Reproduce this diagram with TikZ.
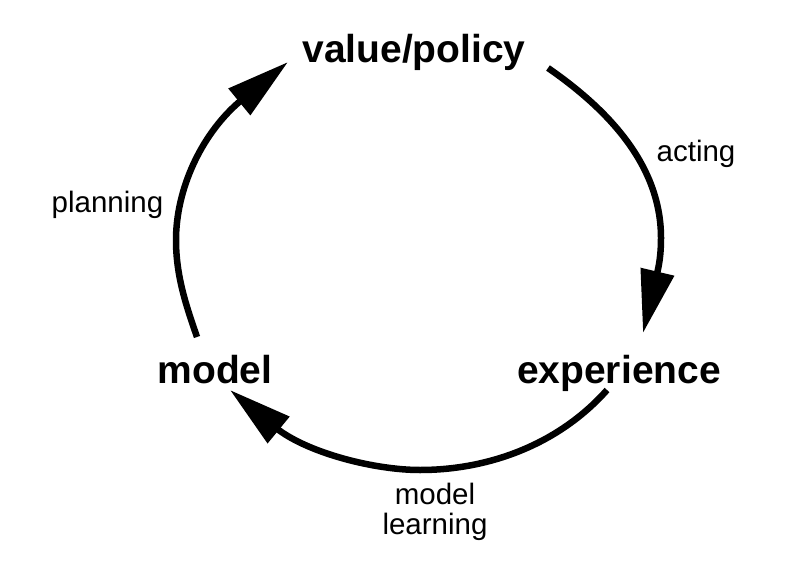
\documentclass[tikz,border=0pt]{standalone}
\usepackage{fontspec}
\setmainfont{Liberation Sans}
\usetikzlibrary{arrows.meta}
\tikzset{
  bigtext/.style={font=\fontsize{39}{44}\selectfont\bfseries, inner sep=0pt, anchor=base},
  smalltext/.style={font=\fontsize{29.5}{30}\selectfont, inner sep=0pt},
  cyc/.style={line width=6.5pt, -{Triangle[length=63pt,width=33pt]}},
}
\begin{document}
\begin{tikzpicture}[x=1pt,y=-1pt]
\useasboundingbox (0,0) rectangle (792,572);
% labels
\node[bigtext] (vp) at (414,63) {value/policy};
\node[bigtext] (model) at (215,383) {model};
\node[bigtext] (exp) at (619,383) {experience};
\node[smalltext, anchor=base] (planning) at (107.5,212) {planning};
\node[smalltext, anchor=base] (acting) at (696,162) {acting};
\node[smalltext, align=center] (ml) at (435,512) {model\\learning};
% planning arc
\coordinate (ps) at (197,337);
\coordinate (pm) at (176,240);
\coordinate (pb) at (238,103);
\coordinate (pe) at (288,62);
\draw[cyc] (ps) .. controls (185.5,304) and (176,275) .. (pm)
  .. controls (176,190) and (200.5,136) .. (pb) -- (pe);
% acting arc
\coordinate (as) at (548,68);
\coordinate (am) at (661,238);
\coordinate (ab) at (657.5,271.5);
\coordinate (ae) at (643,333);
\draw[cyc] (as) .. controls (608,109.5) and (661,165) .. (am)
  .. controls (661,250) and (660,260.8) .. (ab) -- (ae);
% model learning arc
\coordinate (ms) at (607,390);
\coordinate (mm) at (420,470);
\coordinate (mb) at (278,429.5);
\coordinate (me) at (230,390);
\draw[cyc] (ms) .. controls (560,443) and (491,470) .. (mm)
  .. controls (375,470) and (310,453.5) .. (mb) -- (me);
\end{tikzpicture}
\end{document}
